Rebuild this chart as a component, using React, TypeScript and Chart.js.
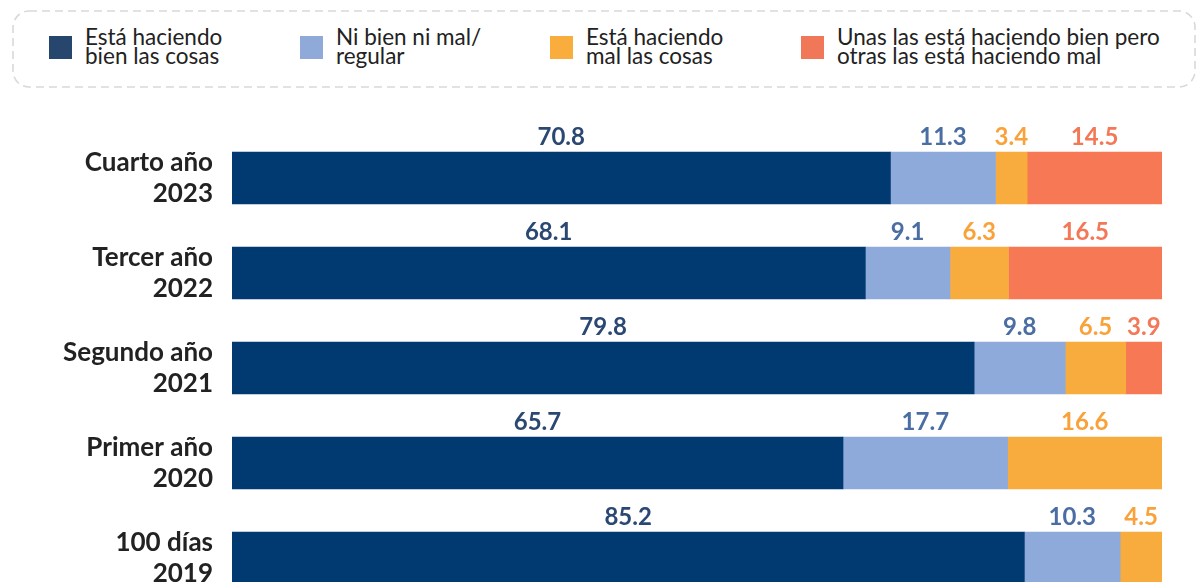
import React, { useEffect, useRef } from "react";
import { Chart, registerables } from "chart.js";

Chart.register(...registerables);

const categories: string[][] = [
  ["Cuarto año", "2023"],
  ["Tercer año", "2022"],
  ["Segundo año", "2021"],
  ["Primer año", "2020"],
  ["100 días", "2019"],
];

const bien: (number | null)[] = [70.8, 68.1, 79.8, 65.7, 85.2];
const regular: (number | null)[] = [11.3, 9.1, 9.8, 17.7, 10.3];
const mal: (number | null)[] = [3.4, 6.3, 6.5, 16.6, 4.5];
const unas: (number | null)[] = [14.5, 16.5, 3.9, null, null];

const seriesNames: string[][] = [
  ["Está haciendo", "bien las cosas"],
  ["Ni bien ni mal/", "regular"],
  ["Está haciendo", "mal las cosas"],
  ["Unas las está haciendo bien pero", "otras las está haciendo mal"],
];

const barColors = ["#003a70", "#8eaadb", "#f9ac3e", "#f77854"];
const legendColors = ["#27466e", "#8faad9", "#f8ad3d", "#f07757"];
const labelColors = ["#2b4872", "#4a6da3", "#f9a23a", "#f37857"];

const legendX = [49, 300, 550, 801];

const valueLabels = {
  id: "valueLabels",
  afterDatasetsDraw(chart: any) {
    const ctx = chart.ctx;
    ctx.save();
    ctx.font = "bold 24px Lato";
    ctx.textAlign = "center";
    ctx.textBaseline = "alphabetic";
    chart.data.datasets.forEach((ds: any, di: number) => {
      const meta = chart.getDatasetMeta(di);
      meta.data.forEach((bar: any, i: number) => {
        const v = ds.data[i];
        if (v === null || v === undefined) return;
        const p = bar.getProps(["x", "y", "base", "height"], true);
        const cx = (p.x + p.base) / 2;
        const top = p.y - p.height / 2;
        ctx.fillStyle = labelColors[di];
        ctx.fillText(v.toFixed(1), cx, top - 7);
      });
    });
    ctx.restore();
  },
};

export default function App() {
  const ref = useRef<HTMLCanvasElement>(null);

  useEffect(() => {
    if (!ref.current) return;
    const chart = new Chart(ref.current, {
      type: "bar",
      data: {
        labels: categories,
        datasets: [bien, regular, mal, unas].map((d, i) => ({
          label: seriesNames[i].join(" "),
          data: d,
          backgroundColor: barColors[i],
          borderWidth: 0,
          barThickness: 52,
        })),
      },
      options: {
        indexAxis: "y",
        animation: false,
        responsive: false,
        maintainAspectRatio: false,
        layout: { padding: { top: 30.5, bottom: 14.5, right: 36, left: 0 } },
        plugins: {
          legend: { display: false },
          tooltip: { enabled: false },
        },
        scales: {
          x: {
            stacked: true,
            min: 0,
            max: 100,
            display: false,
          },
          y: {
            stacked: true,
            grid: { display: false, drawTicks: false },
            border: { display: false },
            afterFit: (scale: any) => {
              scale.width = 232;
              scale.paddingTop = 0;
              scale.paddingBottom = 0;
            },
            ticks: {
              padding: 19,
              color: "#222222",
              font: { family: "Lato", weight: "bold", size: 26, lineHeight: 1.2 },
            },
          },
        },
      },
      plugins: [valueLabels],
    });
    return () => chart.destroy();
  }, []);

  return (
    <div
      style={{
        position: "fixed",
        left: 0,
        top: 0,
        width: 1198,
        height: 582,
        overflow: "hidden",
        background: "#ffffff",
        fontFamily: "Lato",
      }}
    >
      <svg
        width={1198}
        height={100}
        style={{ position: "absolute", left: 0, top: 0 }}
      >
        <rect
          x={13}
          y={11}
          width={1182}
          height={76}
          rx={16}
          ry={16}
          fill="none"
          stroke="#d9d9d9"
          strokeWidth={1.6}
          strokeDasharray="8 5"
        />
      </svg>
      {seriesNames.map((n, i) => (
        <div key={i}>
          <div
            style={{
              position: "absolute",
              left: legendX[i],
              top: 36,
              width: 23,
              height: 23,
              background: legendColors[i],
            }}
          />
          <div
            style={{
              position: "absolute",
              left: legendX[i] + 36,
              top: 27,
              fontSize: 22.5,
              lineHeight: "19.3px",
              color: "#222222",
              whiteSpace: "nowrap",
            }}
          >
            {n[0]}
            <br />
            {n[1]}
          </div>
        </div>
      ))}
      <canvas
        ref={ref}
        width={1198}
        height={520}
        style={{ position: "absolute", left: 0, top: 100, width: 1198, height: 520 }}
      />
    </div>
  );
}
